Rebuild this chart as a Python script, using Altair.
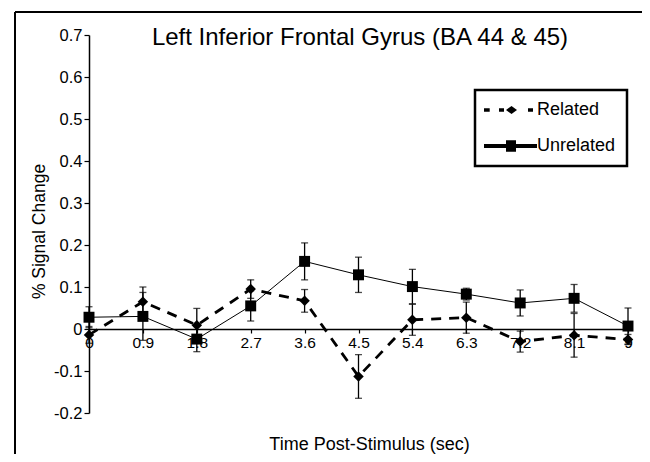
import altair as alt
import pandas as pd

# ---- data ----
time = [0, 0.9, 1.8, 2.7, 3.6, 4.5, 5.4, 6.3, 7.2, 8.1, 9]
related = [-0.014, 0.065, 0.009, 0.095, 0.067, -0.113, 0.022, 0.027, -0.030, -0.015, -0.025]
related_err = [0.020, 0.035, 0.040, 0.022, 0.027, 0.052, 0.037, 0.037, 0.025, 0.052, 0.012]
unrelated = [0.028, 0.030, -0.024, 0.055, 0.161, 0.129, 0.101, 0.083, 0.062, 0.073, 0.007]
unrelated_err = [0.025, 0.057, 0.030, 0.036, 0.044, 0.042, 0.041, 0.014, 0.031, 0.033, 0.043]
series_names = ["Related", "Unrelated"]
x_ticks = [0, 0.9, 1.8, 2.7, 3.6, 4.5, 5.4, 6.3, 7.2, 8.1, 9]
y_ticks = [-0.2, -0.1, 0, 0.1, 0.2, 0.3, 0.4, 0.5, 0.6, 0.7]
chart_title = ["Left Inferior Frontal Gyrus (BA 44 & 45)"]

rows = []
for name, vals, errs in [("Related", related, related_err),
                         ("Unrelated", unrelated, unrelated_err)]:
    for t, v, e in zip(time, vals, errs):
        rows.append({"time": t, "value": v, "lo": v - e, "hi": v + e, "series": name})
df = pd.DataFrame(rows)

FONT = "Liberation Sans"

x_axis = alt.Axis(values=x_ticks, format=".2~g", offset=-84, grid=False,
                  domainColor="black", domainWidth=1.5, tickColor="black",
                  tickSize=4, tickWidth=1.2, labelFontSize=15.5, labelPadding=2,
                  labelColor="black", labelFont=FONT, labelOverlap=False,
                  labelFlush=False,
                  title="Time Post-Stimulus (sec)", titleFont=FONT,
                  titleFontSize=18, titleFontWeight="normal", titleColor="black",
                  titleX=280, titleY=115, titleBaseline="middle")
y_axis = alt.Axis(values=y_ticks,
                  labelExpr="datum.value == 0 ? '0' : replace(format(datum.value, '.1f'), '\u2212', '-')",
                  grid=False, domainColor="black", domainWidth=1.5,
                  tickColor="black", tickSize=5, tickWidth=1.2,
                  labelFontSize=16.5, labelPadding=2, labelColor="black",
                  labelFont=FONT, labelOverlap=False, labelFlush=False,
                  title="% Signal Change", titleFont=FONT, titleFontSize=17.5,
                  titleFontWeight="normal", titleColor="black",
                  titleX=-50, titleY=196, titleAlign="center",
                  titleBaseline="middle")

xs = alt.Scale(domain=[0, 9], nice=False, zero=False)
ys = alt.Scale(domain=[-0.2, 0.7], nice=False, zero=False)


def X():
    return alt.X("time:Q", scale=xs, axis=x_axis)


def Y(field):
    return alt.Y(f"{field}:Q", scale=ys, axis=y_axis)


base = alt.Chart(df)

# frame of the figure and its title
deco = alt.Data(values=[{"t": chart_title[0]}])
frame_left = alt.Chart(deco).mark_rule(color="black", strokeWidth=2).encode(
    x=alt.value(-74), y=alt.value(-23), y2=alt.value(460))
frame_top = alt.Chart(deco).mark_rule(color="black", strokeWidth=2).encode(
    x=alt.value(-74), x2=alt.value(620), y=alt.value(-23))
title_text = alt.Chart(deco).mark_text(
    font=FONT, fontSize=24, color="black", align="center",
    baseline="alphabetic").encode(text="t:N", x=alt.value(271), y=alt.value(10))

err_rule = base.mark_rule(color="black", strokeWidth=1.3).encode(
    x=X(), y=Y("lo"), y2="hi:Q")
err_caps = base.transform_fold(["lo", "hi"], as_=["k", "ev"]).mark_tick(
    color="black", orient="horizontal", size=7, thickness=1.3).encode(
    x=X(), y=Y("ev"))

rel_line = base.transform_filter(alt.datum.series == "Related").mark_line(
    color="black", strokeWidth=2.8, strokeDash=[10, 8]).encode(x=X(), y=Y("value"))
unr_line = base.transform_filter(alt.datum.series == "Unrelated").mark_line(
    color="black", strokeWidth=1).encode(x=X(), y=Y("value"))
rel_pts = base.transform_filter(alt.datum.series == "Related").mark_point(
    shape="diamond", filled=True, color="black", size=110, opacity=1).encode(
    x=X(), y=Y("value"))
unr_pts = base.transform_filter(alt.datum.series == "Unrelated").mark_point(
    shape="square", filled=True, color="black", size=120, opacity=1).encode(
    x=X(), y=Y("value"))

# legend symbols: dashed line + diamond, thick line + square (unit = 5px)
rel_sym = ("M-2.2,-0.33L-1.06,-0.33L-1.06,0.33L-2.2,0.33Z"
           "M0.8,-0.33L1.8,-0.33L1.8,0.33L0.8,0.33Z"
           "M2.2,0L3.3,-0.8L4.4,0L3.3,0.8Z"
           "M6.6,-0.33L7.6,-0.33L7.6,0.33L6.6,0.33Z")
unr_sym = ("M-2.2,-0.4L8.4,-0.4L8.4,0.4L-2.2,0.4Z"
           "M2.2,-1.15L4.2,-1.15L4.2,1.15L2.2,1.15Z")

legend_layer = base.transform_filter("false").mark_point(
    filled=True, color="black", opacity=1).encode(
    x=X(), y=Y("value"),
    shape=alt.Shape("series:N",
                    scale=alt.Scale(domain=series_names, range=[rel_sym, unr_sym]),
                    legend=alt.Legend(title=None, orient="none", legendX=386,
                                      legendY=55, strokeColor="black",
                                      padding=11, symbolSize=100,
                                      symbolStrokeWidth=0, symbolFillColor="black",
                                      symbolOpacity=1, labelOffset=33,
                                      labelFontSize=18, labelFont=FONT,
                                      labelColor="black", rowPadding=18)))

chart = alt.layer(frame_left, frame_top, title_text, err_rule, err_caps,
                  rel_line, unr_line, rel_pts, unr_pts, legend_layer).properties(
    width=539, height=378,
    autosize=alt.AutoSizeParams(type="none"),
    padding={"left": 81, "top": 27, "right": 14, "bottom": 41},
    background="white",
).configure_view(stroke=None).configure_legend(strokeWidth=2.5)

chart.save("out.html", embed_options={"renderer": "svg", "actions": False})
